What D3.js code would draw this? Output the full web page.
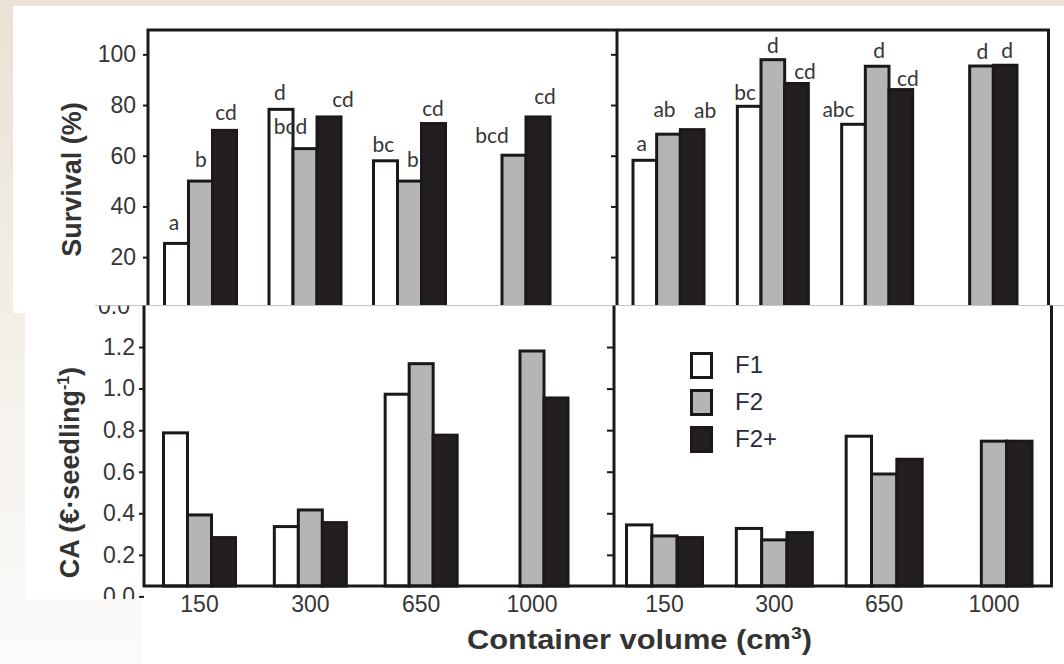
<!DOCTYPE html>
<html><head><meta charset="utf-8">
<script src="https://cdn.jsdelivr.net/npm/d3@7"></script>
<style>body{margin:0;background:#fff;} svg{display:block;}</style>
</head><body><svg id="c" width="1064" height="664"></svg>
<script>
// ---------- data ----------
const volumes = ["150", "300", "650", "1000"];
const series = ["F1", "F2", "F2+"];
const survTicks = [20, 40, 60, 80, 100];
const caTicks = [0, 0.2, 0.4, 0.6, 0.8, 1.0, 1.2];

// Survival (%) - left panel
const survLeftF1 = [25.4, 78.3, 58, null];
const survLeftF2 = [50, 62.8, 50, 60.2];
const survLeftF2p = [70, 75.3, 72.7, 75.3];
// Survival (%) - right panel
const survRightF1 = [58.2, 79.5, 72.4, null];
const survRightF2 = [68.5, 97.9, 95.3, 95.4];
const survRightF2p = [70.3, 88.5, 86.1, 95.7];
// CA (€·seedling-1) - left panel
const caLeftF1 = [0.787, 0.336, 0.973, null];
const caLeftF2 = [0.392, 0.416, 1.12, 1.181];
const caLeftF2p = [0.283, 0.355, 0.776, 0.955];
// CA (€·seedling-1) - right panel
const caRightF1 = [0.344, 0.327, 0.771, null];
const caRightF2 = [0.291, 0.272, 0.589, 0.747];
const caRightF2p = [0.283, 0.307, 0.66, 0.747];

// significance letters
const lettersLeftF1 = ["a", "d", "bc", ""];
const lettersLeftF2 = ["b", "bcd", "b", "bcd"];
const lettersLeftF2p = ["cd", "cd", "cd", "cd"];
const lettersRightF1 = ["a", "bc", "abc", ""];
const lettersRightF2 = ["ab", "d", "d", "d"];
const lettersRightF2p = ["ab", "cd", "cd", "d"];

// letter placement nudges (px), separate from data
const nudgeXLeft = [[-2.5, -1, -2, 0], [0.5, -14.5, 3.5, -22], [1.5, 14, -0.5, 7]];
const nudgeYLeft = [[13, 9, 9, 0], [14, 15, 14, 12], [10, 10, 8, 13]];
const nudgeXRight = [[-3, -4, -15, 0], [-4, 0, 2, 1], [13, 8.5, 7, 2]];
const nudgeYRight = [[9, 6, 7, 0], [17, 6.5, 8, 7], [12, 4, 4, 7]];

// ---------- setup ----------
const svg = d3.select("#c");
const defs = svg.append("defs");
const grad = defs.append("linearGradient").attr("id", "bg")
  .attr("x1", 0).attr("y1", 0).attr("x2", 0).attr("y2", 1);
grad.append("stop").attr("offset", "0%").attr("stop-color", "#ebe1d4");
grad.append("stop").attr("offset", "55%").attr("stop-color", "#f4f0ea");
grad.append("stop").attr("offset", "100%").attr("stop-color", "#fcfbfa");
// clip for the lower-left axis group (local coords: group is translated by 144)
defs.append("clipPath").attr("id", "clipLow").append("rect")
  .attr("x", -200).attr("y", 305.5).attr("width", 1300).attr("height", 293.5);
defs.append("clipPath").attr("id", "clipArt").append("rect")
  .attr("x", 80).attr("y", 305.8).attr("width", 60).attr("height", 10);

const INK = "#1c1819";
const TXT = "#363636";
const fills = ["#ffffff", "#b3b5b7", "#231f20"];
const sans = "'Liberation Sans', Arial, sans-serif";

svg.append("rect").attr("width", 1064).attr("height", 664).attr("fill", "url(#bg)");
svg.append("rect").attr("x", 13).attr("y", 6).attr("width", 1051).attr("height", 307).attr("fill", "#fff");

function groupScale(c0, c3, groupW) {
  const step = (c3 - c0) / 3, pi = 1 - groupW / step;
  return d3.scaleBand().domain(volumes).range([c0 - step / 2, c3 + step / 2])
    .paddingInner(pi).paddingOuter(pi / 2);
}
const xUL = groupScale(200.5, 514, 72);
const xUR = groupScale(668.5, 981.5, 71);
const xLL = groupScale(199.5, 532, 72);
const xLR = groupScale(664.5, 994, 76);
const yU = d3.scaleLinear().domain([0, 110]).range([307.8, 29]);
const yL = d3.scaleLinear().domain([0.05, 1.4]).range([586, 305.5]);

function drawBars(x, y, data, baseVal) {
  const inner = d3.scaleBand().domain(series).range([0, x.bandwidth()]);
  const grp = svg.append("g");
  series.forEach((s, k) => {
    grp.selectAll(null)
      .data(volumes.map((v, i) => ({ v, val: data[k][i] })).filter(d => d.val != null))
      .join("rect")
      .attr("x", d => x(d.v) + inner(s))
      .attr("width", inner.bandwidth())
      .attr("y", d => y(d.val))
      .attr("height", d => y(baseVal) - y(d.val))
      .attr("fill", fills[k]).attr("stroke", INK).attr("stroke-width", 3);
  });
}
function drawLetters(x, y, data, letters, nx, ny) {
  const inner = d3.scaleBand().domain(series).range([0, x.bandwidth()]);
  series.forEach((s, k) => volumes.forEach((v, i) => {
    const t = letters[k][i];
    if (!t) return;
    svg.append("text")
      .attr("x", x(v) + inner(s) + inner.bandwidth() / 2 + nx[k][i])
      .attr("y", y(data[k][i]) - ny[k][i])
      .attr("text-anchor", "middle")
      .attr("font-family", "Lato, 'Open Sans', sans-serif")
      .attr("font-size", 21).attr("fill", TXT).text(t);
  }));
}
function styleAxis(ax, fs) {
  ax.select(".domain").remove();
  ax.selectAll(".tick line").attr("stroke", INK).attr("stroke-width", 2);
  ax.selectAll(".tick text").attr("font-family", sans).attr("font-size", fs).attr("fill", TXT);
}

// ---------- upper panels (Survival) ----------
drawBars(xUL, yU, [survLeftF1, survLeftF2, survLeftF2p], 0);
drawBars(xUR, yU, [survRightF1, survRightF2, survRightF2p], 0);
drawLetters(xUL, yU, [survLeftF1, survLeftF2, survLeftF2p],
  [lettersLeftF1, lettersLeftF2, lettersLeftF2p], nudgeXLeft, nudgeYLeft);
drawLetters(xUR, yU, [survRightF1, survRightF2, survRightF2p],
  [lettersRightF1, lettersRightF2, lettersRightF2p], nudgeXRight, nudgeYRight);

const axUL = svg.append("g").attr("transform", "translate(148,0)")
  .call(d3.axisLeft(yU).tickValues(survTicks).tickSize(5).tickPadding(7));
styleAxis(axUL, 23);
const axUR = svg.append("g").attr("transform", "translate(617,0)")
  .call(d3.axisLeft(yU).tickValues(survTicks).tickSize(6).tickFormat(""));
styleAxis(axUR, 23);

const upFrame = svg.append("g").attr("stroke", INK).attr("stroke-width", 3).attr("fill", "none");
upFrame.append("path").attr("d", `M148,${yU(0)}V${yU(110) + 1}H1048.5V${yU(0)}`);
upFrame.append("path").attr("d", `M617,${yU(110) + 1}V${yU(0)}`);

svg.append("text")
  .attr("transform", "translate(72,179.5) rotate(-90)")
  .attr("text-anchor", "middle").attr("dy", "0.35em")
  .attr("font-family", sans).attr("font-weight", "bold").attr("font-size", 27)
  .attr("fill", "#333").text("Survival (%)");

// ---------- lower panels (CA) ----------
svg.append("rect").attr("x", 25).attr("y", 305.5).attr("width", 1039).attr("height", 293.5).attr("fill", "#fff");
svg.append("rect").attr("x", 142).attr("y", 586).attr("width", 922).attr("height", 78).attr("fill", "#fff");
svg.append("line").attr("x1", 95).attr("x2", 1064).attr("y1", 305.5).attr("y2", 305.5)
  .attr("stroke", "#c4c4c4").attr("stroke-width", 1);

// clipped remnant label at the seam
svg.append("text").attr("clip-path", "url(#clipArt)")
  .attr("x", 130).attr("y", 305.5).attr("dy", "0.35em").attr("text-anchor", "end")
  .attr("font-family", sans).attr("font-size", 23).attr("fill", TXT).text("0.0");

drawBars(xLL, yL, [caLeftF1, caLeftF2, caLeftF2p], 0.05);
drawBars(xLR, yL, [caRightF1, caRightF2, caRightF2p], 0.05);

const axLL = svg.append("g").attr("transform", "translate(144,0)").attr("clip-path", "url(#clipLow)")
  .call(d3.axisLeft(yL).tickValues(caTicks).tickSize(5).tickPadding(4)
    .tickFormat(d3.format(".1f")));
styleAxis(axLL, 23);
const axLR = svg.append("g").attr("transform", "translate(613,0)")
  .call(d3.axisLeft(yL).tickValues(caTicks.filter(t => t > 0)).tickSize(6).tickFormat(""));
styleAxis(axLR, 23);

const lowFrame = svg.append("g").attr("stroke", INK).attr("stroke-width", 3).attr("fill", "none");
lowFrame.append("path").attr("d", `M144,305.5V586H1051.5V305.5`);
lowFrame.append("path").attr("d", `M614,305.5V586`);

const axXL = svg.append("g").attr("transform", "translate(0,586)")
  .call(d3.axisBottom(xLL).tickSize(0).tickPadding(10));
styleAxis(axXL, 23);
const axXR = svg.append("g").attr("transform", "translate(0,586)")
  .call(d3.axisBottom(xLR).tickSize(0).tickPadding(10));
styleAxis(axXR, 23);

const caTitle = svg.append("text")
  .attr("transform", "translate(70,472.5) rotate(-90)")
  .attr("text-anchor", "middle").attr("dy", "0.35em")
  .attr("font-family", sans).attr("font-weight", "bold").attr("font-size", 27)
  .attr("fill", "#333");
caTitle.append("tspan").text("CA (€·seedling");
caTitle.append("tspan").attr("font-size", 16).attr("dy", -10).text("-1");
caTitle.append("tspan").attr("dy", 10).text(")");

const xTitle = svg.append("text")
  .attr("x", 639.5).attr("y", 649).attr("text-anchor", "middle")
  .attr("font-family", sans).attr("font-weight", "bold").attr("font-size", 27)
  .attr("fill", "#333").attr("textLength", 345).attr("lengthAdjust", "spacingAndGlyphs");
xTitle.append("tspan").text("Container volume (cm");
xTitle.append("tspan").attr("font-size", 17).attr("dy", -10).text("3");
xTitle.append("tspan").attr("dy", 10).text(")");

// ---------- legend ----------
const leg = svg.append("g").attr("transform", "translate(690,352)");
series.forEach((s, k) => {
  const gy = k * 37;
  leg.append("rect").attr("x", 1.5).attr("y", gy + 1.5).attr("width", 20).attr("height", 24)
    .attr("fill", fills[k]).attr("stroke", INK).attr("stroke-width", 3);
  leg.append("text").attr("x", 45).attr("y", gy + 13).attr("dy", "0.35em")
    .attr("font-family", sans).attr("font-size", 24).attr("fill", "#272c3c").text(s);
});
</script>
</body></html>
